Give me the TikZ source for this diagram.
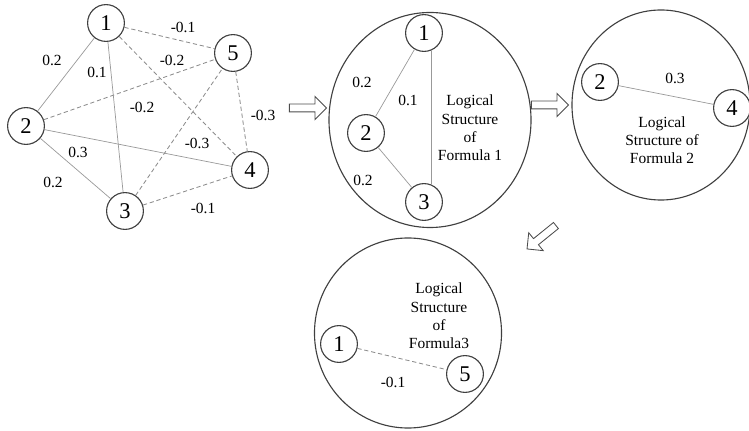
\documentclass[tikz,border=0pt]{standalone}
\usepackage{fontspec}
\setmainfont{Liberation Serif}
\usetikzlibrary{shapes.geometric,shapes.arrows}

\begin{document}
\begin{tikzpicture}[
  x=0.025cm,y=-0.025cm,
  vert/.style={circle,draw=black!75,line width=0.8pt,fill=white,
               minimum size=0.92cm,inner sep=0pt,font=\fontsize{16}{18}\selectfont},
  blob/.style={ellipse,draw=black!75,line width=0.8pt,inner sep=0pt},
  wt/.style={font=\fontsize{11}{13}\selectfont,inner sep=1pt},
  caption/.style={align=center,font=\fontsize{11}{13}\selectfont,inner sep=0pt},
  posedge/.style={draw=black!40,line width=0.5pt},
  negedge/.style={draw=black!45,line width=0.6pt,dash pattern=on 3pt off 2pt},
  bigarr/.style={single arrow,draw=black!70,line width=0.6pt,fill=white,
                 minimum height=0.93cm,minimum width=0.55cm,
                 single arrow head extend=0.19cm,inner xsep=0pt,inner ysep=0.0875cm}
]
  \useasboundingbox (0,0) rectangle (749,431);

  \node[vert] (g1) at (106,23) {1};
  \node[vert] (g5) at (233,53) {5};
  \node[vert] (g2) at (26,126) {2};
  \node[vert] (g4) at (250,170) {4};
  \node[vert] (g3) at (125,211) {3};

  \draw[posedge] (g1) -- (g2);
  \draw[posedge] (g1) -- (g3);
  \draw[posedge] (g2) -- (g4);
  \draw[posedge] (g2) -- (g3);
  \draw[negedge] (g1) -- (g5);
  \draw[negedge] (g1) -- (g4);
  \draw[negedge] (g2) -- (g5);
  \draw[negedge] (g3) -- (g5);
  \draw[negedge] (g5) -- (g4);
  \draw[negedge] (g3) -- (g4);

  \node[wt] (w12) at (52,60) {0.2};
  \node[wt] (w13) at (97,72) {0.1};
  \node[wt] (w15) at (183,27) {-0.1};
  \node[wt] (w14) at (172,60) {-0.2};
  \node[wt] (w25) at (142,107) {-0.2};
  \node[wt] (w24) at (78,152) {0.3};
  \node[wt] (w35) at (197,143) {-0.3};
  \node[wt] (w54) at (263,115) {-0.3};
  \node[wt] (w23) at (53,182) {0.2};
  \node[wt] (w34) at (203,208) {-0.1};

  \node[bigarr] (arrA) at (306,108) {};

  \node[blob,minimum width=5.05cm,minimum height=5.375cm] (form1) at (430,120) {};
  \node[vert] (a1) at (424,33) {1};
  \node[vert] (a2) at (366,133) {2};
  \node[vert] (a3) at (424,202) {3};
  \draw[posedge] (a1) -- (a2);
  \draw[posedge] (a2) -- (a3);
  \draw[posedge] (a1.-68) -- (a3.68);
  \node[wt] (v12) at (362,82) {0.2};
  \node[wt] (v13) at (408,100) {0.1};
  \node[wt] (v23) at (363,180) {0.2};
  \node[caption] (cap1) at (470,128) {Logical\\Structure\\of\\Formula 1};

  \node[bigarr] (arrB) at (548,105) {};

  \node[blob,minimum width=4.45cm,minimum height=4.75cm] (form2) at (661,105) {};
  \node[vert] (b2) at (600,82) {2};
  \node[vert] (b4) at (732,108) {4};
  \draw[posedge] (b2) -- (b4);
  \node[wt] (u24) at (675,78) {0.3};
  \node[caption] (cap2) at (662,140) {Logical\\Structure of\\Formula 2};

  \node[bigarr,rotate=219] (arrC) at (543,236) {};

  \node[blob,minimum width=4.675cm,minimum height=4.75cm] (form3) at (408,333) {};
  \node[vert] (c1) at (339,344) {1};
  \node[vert] (c5) at (465,374) {5};
  \draw[negedge] (c1) -- (c5);
  \node[wt] (t15) at (393,382) {-0.1};
  \node[caption] (cap3) at (439,316) {Logical\\Structure\\of\\Formula3};
\end{tikzpicture}
\end{document}
